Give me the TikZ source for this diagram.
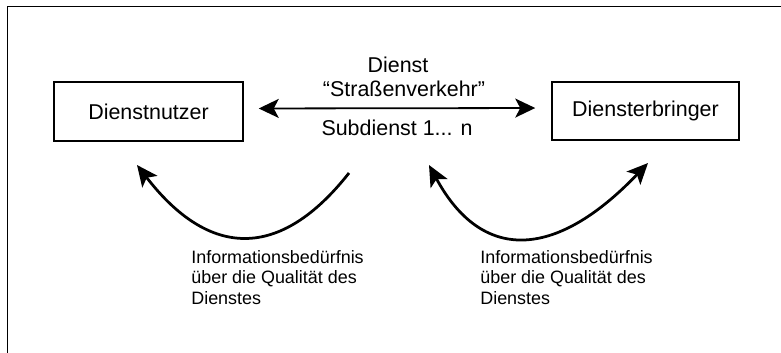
\documentclass[tikz,border=0pt]{standalone}
\usepackage{fontspec}
\setmainfont{Liberation Sans}
\usetikzlibrary{arrows.meta}
\tikzset{
  dienstbox/.style={draw, line width=0.030cm, inner sep=0cm},
  dienstpfeil/.style={line width=0.036cm, {Stealth[length=0.40cm, width=0.38cm, inset=0.10cm]}-{Stealth[length=0.40cm, width=0.38cm, inset=0.10cm]}},
  bedarfpfeil/.style={line width=0.055cm, arrows={-Stealth[length=0.42cm, width=0.38cm, inset=0.10cm]}},
  bedarftext/.style={anchor=north west, inner sep=0cm, align=left, font=\fontsize{10.2}{11.6}\selectfont}
}
\begin{document}
\begin{tikzpicture}
            \useasboundingbox (0,0) rectangle (15.620000,7.040000);
            {\fontsize{12.2}{14}\selectfont

            % Drawing frame
            \draw [line width=0.016cm] (0.140000,-0.200000) rectangle (15.900000,6.920000);%

            % Drawing box Dienstnutzer
            \node [dienstbox, minimum width=3.780000cm, minimum height=1.180000cm] (nutzer) at (2.970000,4.810000) { Dienstnutzer };%

            % Drawing box Diensterbringer
            \node [dienstbox, minimum width=3.740000cm, minimum height=1.160000cm] (erbringer) at (12.910000,4.820000) { Diensterbringer };%

            % Drawing arrow nutzer erbringer
            \draw [dienstpfeil, shorten <=0.300000cm, shorten >=0.320000cm] ([yshift=0.060000cm]nutzer.east) -- ([yshift=0.060000cm]erbringer.west);%

            % Marking service labels
            \node (dienst) at (7.960000,5.740000) { Dienst };%
            \node (strasse) at (8.080000,5.260000) { “Straßenverkehr” };%
            \node (subdienst) at (7.940000,4.480000) { Subdienst 1... n };%

            % Drawing curve for Dienstnutzer
            \coordinate (nutzerstart) at (6.980000,3.580000);
            \coordinate (nutzerziel) at (2.740000,3.740000);
            \draw [bedarfpfeil] (nutzerstart) .. controls (5.593000,1.820000) and (4.180000,1.873000) .. (nutzerziel);%

            % Drawing curve for Diensterbringer
            \coordinate (erbringerlinks) at (8.580000,3.740000);
            \coordinate (erbringerrechts) at (12.960000,3.780000);
            \draw [bedarfpfeil, arrows={Stealth[length=0.42cm, width=0.38cm, inset=0.10cm]-Stealth[length=0.42cm, width=0.38cm, inset=0.10cm]}] (erbringerlinks) .. controls (9.627000,1.807000) and (11.087000,1.820000) .. (erbringerrechts);%

            % Marking information needs
            \node [bedarftext] (nutzerbedarf) at (3.820000,2.040000) {Informationsbedürfnis\\über die Qualität des\\Dienstes};%
            \node [bedarftext] (erbringerbedarf) at (9.600000,2.040000) {Informationsbedürfnis\\über die Qualität des\\Dienstes};%
            }
\end{tikzpicture}
\end{document}
